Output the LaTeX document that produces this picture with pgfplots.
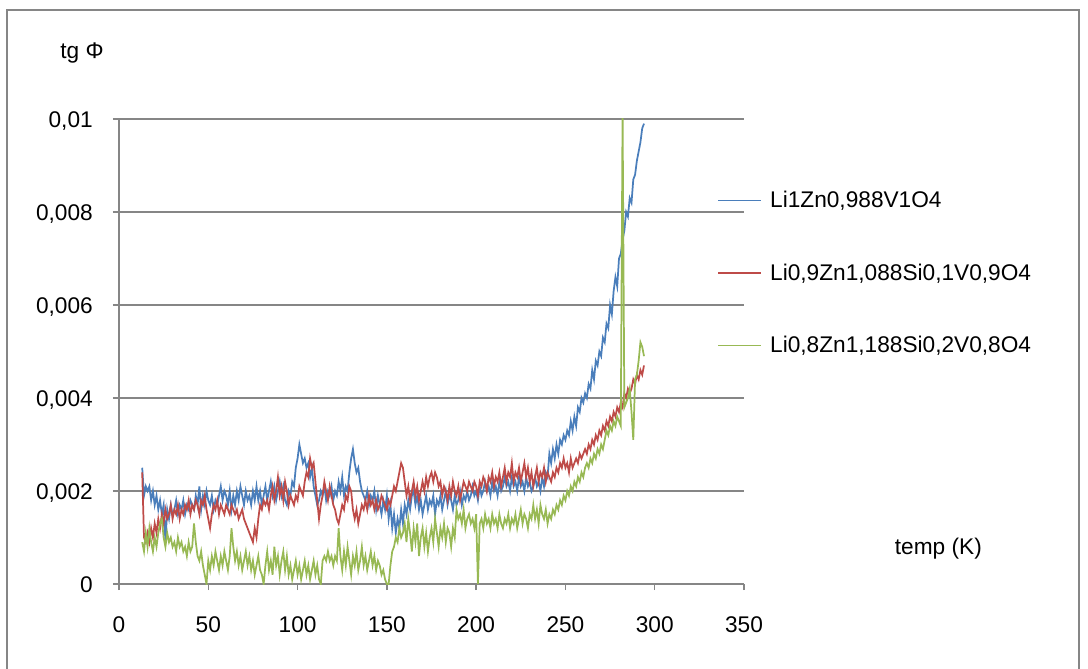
\documentclass[border=0pt]{standalone}
\usepackage{pgfplots}
\pgfplotsset{compat=1.18}
\usepackage{pgfplotstable}
\usepackage{fontspec}
\setmainfont{Liberation Sans}

\definecolor{xlblue}{HTML}{4A7EBB}
\definecolor{xlred}{HTML}{BE4B48}
\definecolor{xlgreen}{HTML}{98B954}
\definecolor{xlgray}{HTML}{868686}

% T in K; A, B, C: tg phi in units of 1e-4
\pgfplotstableread{
T A B C
13 25 24 9
14 19 10 7
15 21 9 11
16 20 11 8
17 21 9 12
18 18 12 9
19 20 10 7
20 17 13 10
21 19 11 8
22 16 14 11
23 18 12 13
24 15 15 14
25 17 13 10
26 9 16 8
27 16 14 11
28 14 15 9
29 17 17 10
30 15 14 8
31 16 16 9
32 18 15 7
33 15 17 10
34 17 14 8
35 16 16 9
36 18 15 7
37 15 17 8
38 17 16 6
39 16 18 9
40 18 15 7
41 17 17 8
42 16 16 13
43 19 18 9
44 17 17 6
45 21 15 5
46 16 18 7
47 19 17 4
48 17 19 2
49 20 16 0
50 18 14 5
51 17 12 3
52 19 15 6
53 16 17 4
54 18 16 7
55 17 18 5
56 19 15 3
57 21 17 6
58 18 16 4
59 20 15 7
60 19 17 5
61 17 16 3
62 20 15 6
63 16 17 12
64 19 16 8
65 17 15 5
66 20 16 7
67 18 14 4
68 21 15 6
69 19 16 3
70 17 14 5
71 20 13 7
72 18 12 4
73 19 11 6
74 17 10 3
75 20 9 5
76 18 12 2
77 21 10 4
78 18 14 6
79 20 17 3
80 17 16 2
81 19 18 0
82 21 17 4
83 18 18 7
84 20 16 3
85 22 19 5
86 19 21 2
87 21 18 8
88 18 20 4
89 20 23 6
90 22 19 2
91 19 21 5
92 21 18 7
93 18 22 3
94 17 20 6
95 20 17 2
96 19 19 4
97 22 18 1
98 21 17 3
99 25 19 5
100 27 18 2
101 30 21 4
102 28 20 1
103 26 19 3
104 27 22 5
105 25 24 2
106 26 23 4
107 23 27 1
108 25 25 3
109 21 26 5
110 19 22 2
111 17 18 4
112 18 14 1
113 20 17 0
114 19 19 5
115 21 22 6
116 18 20 5
117 20 18 7
118 19 21 5
119 21 19 6
120 18 17 4
121 20 16 6
122 19 14 5
123 22 13 12
124 20 15 6
125 23 17 3
126 19 16 7
127 21 19 4
128 20 18 8
129 24 21 5
130 27 20 2
131 29 16 6
132 26 14 4
133 24 16 7
134 25 13 3
135 22 15 5
136 20 17 8
137 19 16 4
138 18 18 6
139 20 16 3
140 17 19 5
141 19 17 7
142 18 18 4
143 20 16 6
144 16 18 3
145 19 16 5
146 17 17 4
147 15 19 2
148 18 18 3
149 16 17 1
150 19 16 0
151 14 18 0
152 17 17 4
153 12 19 7
154 15 21 8
155 11 20 10
156 14 22 9
157 12 24 12
158 16 26 10
159 13 25 11
160 17 22 13
161 15 19 9
162 18 21 14
163 16 18 11
164 19 20 7
165 20 22 12
166 17 19 9
167 19 21 13
168 16 18 6
169 18 20 10
170 15 22 12
171 17 20 8
172 19 23 11
173 16 21 7
174 18 23 10
175 17 24 12
176 19 22 9
177 15 24 14
178 18 23 11
179 17 21 8
180 19 22 12
181 16 19 10
182 18 21 13
183 20 20 9
184 17 18 12
185 19 21 11
186 18 19 8
187 16 22 12
188 19 20 10
189 17 19 16
190 18 21 14
191 20 18 15
192 17 20 13
193 19 22 16
194 18 21 12
195 20 20 14
196 18 22 15
197 19 21 13
198 21 20 14
199 19 22 12
200 20 21 15
201 18 19 0
202 21 22 13
203 19 21 14
204 20 23 12
205 22 22 15
206 20 20 13
207 21 23 14
208 19 22 12
209 22 24 15
210 20 21 13
211 21 23 14
212 19 22 12
213 22 24 15
214 20 21 13
215 21 23 12
216 23 25 14
217 21 22 13
218 22 24 15
219 20 23 12
220 23 26 14
221 21 22 13
222 22 24 15
223 20 23 12
224 23 25 14
225 21 22 16
226 22 24 13
227 20 26 15
228 23 23 14
229 21 25 12
230 22 22 15
231 20 24 14
232 21 21 17
233 23 23 14
234 21 25 16
235 22 22 13
236 20 24 17
237 23 23 15
238 21 25 14
239 24 22 16
240 23 24 13
241 28 23 15
242 26 22 14
243 29 24 16
244 27 23 15
245 30 25 17
246 28 24 16
247 31 26 18
248 30 25 17
249 32 27 19
250 31 25 18
251 33 26 20
252 32 24 19
253 35 27 21
254 33 25 20
255 36 26 22
256 34 27 21
257 38 26 23
258 37 28 22
259 40 27 24
260 39 28 23
261 41 29 25
262 40 28 26
263 43 30 25
264 42 29 27
265 46 31 26
266 44 30 28
267 48 32 27
268 47 31 29
269 50 33 28
270 49 32 30
271 53 34 29
272 52 33 31
273 56 35 33
274 55 34 32
275 60 36 34
276 58 35 33
277 63 37 35
278 66 36 34
279 64 38 36
280 70 37 35
281 71 39 34
282 74 38 102
283 76 41 38
284 80 40 39
285 79 42 40
286 83 41 42
287 82 42 37
288 87 44 31
289 88 43 44
290 91 45 45
291 93 44 48
292 95 46 52
293 98 45 51
294 99 47 49
}\tgdata

\begin{document}
\begin{tikzpicture}
\useasboundingbox (0pt,0pt) rectangle (816pt,501pt);
% chart frame
\draw[xlgray, line width=1.5pt] (5.25pt,-2pt) -- (5.25pt,493.5pt) -- (809.25pt,493.5pt) -- (809.25pt,-2pt);
\begin{axis}[
  at={(89.25pt,63pt)}, anchor=south west,
  scale only axis, width=468.75pt, height=348.75pt,
  xmin=0, xmax=350, ymin=0, ymax=100,
  axis x line=bottom, axis y line=left,
  axis line style={xlgray, line width=1.1pt, -},
  xtick={0,50,...,350},
  xticklabels={0,50,100,150,200,250,300,350},
  ytick={0,20,...,100},
  yticklabels={0,{0,002},{0,004},{0,006},{0,008},{0,01}},
  tick align=outside, major tick length=4.5pt,
  tick style={xlgray, line width=1.1pt},
  ymajorgrids, grid style={xlgray, line width=1.1pt},
  every tick label/.append style={font=\fontsize{17}{20}\selectfont, inner sep=0pt},
  xticklabel style={anchor=base, yshift=-31.5pt},
  yticklabel style={anchor=base east, xshift=-15pt, yshift=-6.1pt},
  xlabel={temp (K)}, ylabel={tg Φ},
  every axis x label/.style={at={(axis description cs:1.311,0.0645)}, anchor=base, font=\fontsize{17}{20}\selectfont},
  every axis y label/.style={at={(axis description cs:-0.0592,1.131)}, anchor=base, font=\fontsize{17}{20}\selectfont},
  legend style={at={(0.9504,0.8565)}, anchor=north west, draw=none, fill=none,
    font=\fontsize{17}{20}\selectfont, row sep=36.6pt},
  legend cell align=left,
  legend image code/.code={\draw[#1, line width=1.1pt] (0pt,0pt) -- (32pt,0pt); \path (36.5pt,0pt);},
  clip=true,
]
\addplot[xlblue, line width=1.3pt] table[x=T, y=A] {\tgdata};
\addlegendentry{Li1Zn0,988V1O4}
\addplot[xlred, line width=1.3pt] table[x=T, y=B] {\tgdata};
\addlegendentry{Li0,9Zn1,088Si0,1V0,9O4}
\addplot[xlgreen, line width=1.3pt] table[x=T, y=C] {\tgdata};
\addlegendentry{Li0,8Zn1,188Si0,2V0,8O4}
\end{axis}
\end{tikzpicture}
\end{document}
